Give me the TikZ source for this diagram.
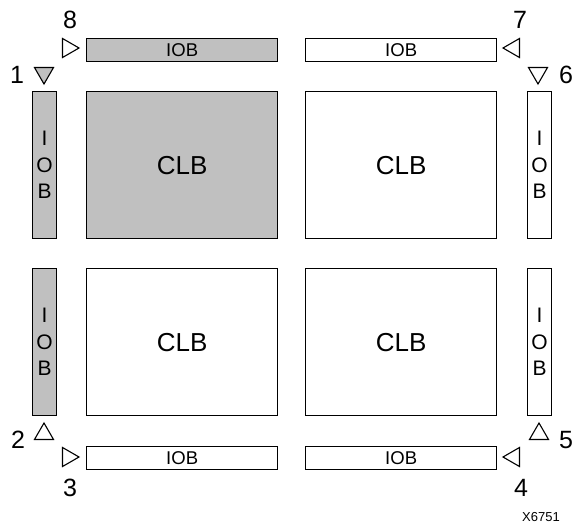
\documentclass[tikz,border=0pt]{standalone}
\usepackage{fontspec}
\setmainfont{Liberation Sans}
\usetikzlibrary{shapes.geometric}
\definecolor{bxgray}{RGB}{192,192,192}
\begin{document}
\begin{tikzpicture}[x=1pt,y=-1pt,
  box/.style={draw,line width=1.3pt,inner sep=0pt,anchor=north west},
  clb/.style={box,minimum width=191pt,minimum height=147pt,font=\fontsize{26}{26}\selectfont},
  hiob/.style={box,minimum width=191pt,minimum height=23pt,font=\fontsize{18.5}{18.5}\selectfont},
  viob/.style={box,minimum width=24pt,minimum height=147pt,font=\fontsize{21}{26.5}\selectfont,align=center},
  tri/.style={draw,line width=1.1pt,regular polygon,regular polygon sides=3,minimum size=22pt,inner sep=0pt},
  num/.style={font=\fontsize{25}{25}\selectfont,inner sep=0pt}]
\useasboundingbox (0,0) rectangle (575,527);
% CLBs
\node[clb,fill=bxgray] (c1) at (86,91) {CLB};
\node[clb] (c2) at (305,91) {CLB};
\node[clb] (c3) at (86,268) {CLB};
\node[clb] (c4) at (305,268) {CLB};
% horizontal IOBs
\node[hiob,fill=bxgray] (t1) at (86,38) {IOB};
\node[hiob] (t2) at (305,38) {IOB};
\node[hiob] (b1) at (86,446) {IOB};
\node[hiob] (b2) at (305,446) {IOB};
% vertical IOBs
\node[viob,fill=bxgray] (l1) at (32,91) {I\\O\\B};
\node[viob,fill=bxgray] (l2) at (32,268) {I\\O\\B};
\node[viob] (r1) at (527,91) {I\\O\\B};
\node[viob] (r2) at (527,268) {I\\O\\B};
% triangles
\node[tri,shape border rotate=-90] (p8) at (68,48) {};
\node[tri,shape border rotate=180,fill=bxgray] (p1) at (44,73) {};
\node[tri,shape border rotate=90] (p7) at (514,48) {};
\node[tri,shape border rotate=180] (p6) at (538,73) {};
\node[tri] (p2) at (44,434) {};
\node[tri,shape border rotate=-90] (p3) at (68,457) {};
\node[tri,shape border rotate=90] (p4) at (514,457) {};
\node[tri] (p5) at (539,434) {};
% numbers
\node[num] (n8) at (70,20) {8};
\node[num] (n1) at (17,75) {1};
\node[num] (n7) at (520,20) {7};
\node[num] (n6) at (566,75) {6};
\node[num] (n2) at (18,440) {2};
\node[num] (n3) at (70,488) {3};
\node[num] (n4) at (521,488) {4};
\node[num] (n5) at (566,440) {5};
\node[font=\fontsize{13}{13}\selectfont,inner sep=0pt] (x) at (541,517) {X6751};
\end{tikzpicture}
\end{document}
